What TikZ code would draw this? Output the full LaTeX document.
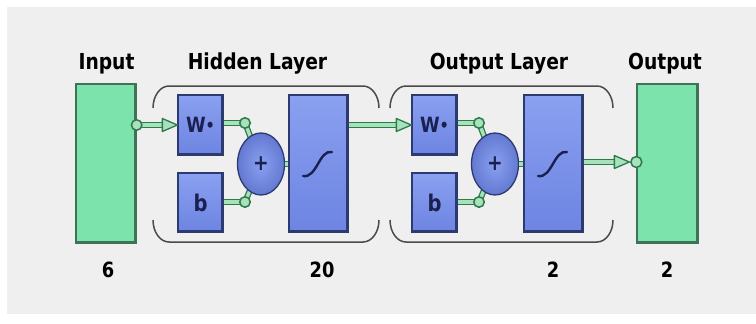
\documentclass[tikz,border=0pt]{standalone}
\usepackage{fontspec}
\newfontfamily\lab{DejaVu Sans}[FakeStretch=0.85]
\usetikzlibrary{calc,shapes.geometric,shadings}
\definecolor{bgc}{HTML}{EFEFEF}
\definecolor{mint}{HTML}{7DE3AD}
\definecolor{mintdark}{HTML}{3F7358}
\definecolor{bluef}{HTML}{6D84E2}
\definecolor{bluel}{HTML}{8AA0F0}
\definecolor{navy}{HTML}{2C3A70}
\definecolor{ink}{HTML}{1A2050}
\definecolor{wiredark}{HTML}{2F7A4A}
\definecolor{wirelight}{HTML}{A8E2BC}
\definecolor{brk}{HTML}{4A4A4A}
\begin{document}
\begin{tikzpicture}[x=1pt,y=-1pt,
  txt/.style={font=\lab\bfseries\fontsize{22}{26}\selectfont, text=black, anchor=base, inner sep=0pt},
  num/.style={font=\lab\bfseries\fontsize{21}{24}\selectfont, text=black, anchor=base, inner sep=0pt},
  greenbox/.style={draw=mintdark, line width=1.3pt, fill=mint, minimum width=60pt, minimum height=159pt, inner sep=0pt},
  bluebox/.style={draw=navy, line width=1.3pt, top color=bluel, bottom color=bluef, inner sep=0pt, text=ink,
     font=\lab\bfseries\fontsize{21}{22}\selectfont},
  plusnode/.style={ellipse, draw=navy, line width=1.3pt, inner color=bluel, outer color=bluef!85!navy,
     minimum width=47pt, minimum height=62pt, inner sep=0pt, text=ink, font=\lab\bfseries\fontsize{22}{22}\selectfont},
  wire/.style={draw=wiredark, line width=1.3pt, double=wirelight, double distance=3.4pt},
  port/.style={circle, draw=wiredark, line width=1.5pt, fill=wirelight, minimum size=10.5pt, inner sep=0pt},
  tri/.style={draw=wiredark, line width=1.3pt, fill=wirelight, line join=round},
  bracket/.style={draw=brk, line width=1.5pt},
  bevel/.style={line width=2.5pt},
  sig/.style={draw=ink, line width=2.4pt, line cap=round}
]
\useasboundingbox (0,0) rectangle (756,324);
\fill[white] (0,0) rectangle (756,324);
\fill[bgc] (7,7) rectangle (756,314);

% brackets
\draw[bracket] (153,108) arc[start angle=180, end angle=90, x radius=16pt, y radius=22pt] -- (363,86)
  arc[start angle=90, end angle=0, x radius=16pt, y radius=22pt];
\draw[bracket] (153,220) arc[start angle=180, end angle=270, x radius=16pt, y radius=22pt] -- (363,242)
  arc[start angle=270, end angle=360, x radius=16pt, y radius=22pt];
\draw[bracket] (390,108) arc[start angle=180, end angle=90, x radius=16pt, y radius=22pt] -- (597,86)
  arc[start angle=90, end angle=0, x radius=16pt, y radius=22pt];
\draw[bracket] (390,220) arc[start angle=180, end angle=270, x radius=16pt, y radius=22pt] -- (597,242)
  arc[start angle=270, end angle=360, x radius=16pt, y radius=22pt];

% boxes
\node[greenbox] (in) at (106,163.5) {};
\node[greenbox, minimum width=61pt] (out) at (667.5,163.5) {};
\node[bluebox, minimum width=45pt, minimum height=60pt] (W1) at (200.5,125) {W\raisebox{0.1ex}{\fontsize{17}{17}\selectfont•}};
\node[bluebox, minimum width=45pt, minimum height=59pt, font=\lab\bfseries\fontsize{23}{24}\selectfont] (b1) at (200.5,202.5) {b};
\node[bluebox, minimum width=59pt, minimum height=137pt] (s1) at (318.5,163.5) {};
\node[bluebox, minimum width=45pt, minimum height=60pt] (W2) at (434.5,125) {W\raisebox{0.1ex}{\fontsize{17}{17}\selectfont•}};
\node[bluebox, minimum width=45pt, minimum height=59pt, font=\lab\bfseries\fontsize{23}{24}\selectfont] (b2) at (434.5,202.5) {b};
\node[bluebox, minimum width=59pt, minimum height=137pt] (s2) at (553.5,163.5) {};

% bevels (darker bottom and right edges)
\foreach \n/\c in {in/mintdark,out/mintdark,W1/navy,b1/navy,s1/navy,W2/navy,b2/navy,s2/navy}{
  \draw[bevel, draw=\c] ($(\n.south west)+(1,-1)$) -- ($(\n.south east)+(-1,-1)$) -- ($(\n.north east)+(-1,1)$);
}

% sigmoid curves
\foreach \n in {s1,s2}{
  \draw[sig] ($(\n.center)+(-15.5,12.5)$) .. controls ($(\n.center)+(-1.5,15)$) and ($(\n.center)+(0.5,-14)$) .. ($(\n.center)+(13.5,-11.5)$);
}

% ports of the summing junctions
\coordinate (q1) at (245,123);
\coordinate (r1) at (245,202);
\coordinate (q2) at (479,123);
\coordinate (r2) at (479,202);

% stems from ports to the summing junctions (drawn below the ellipses)
\draw[wire] (q1) -- (261,164);
\draw[wire] (r1) -- (261,164);
\draw[wire] (q2) -- (495,164);
\draw[wire] (r2) -- (495,164);

\node[plusnode] (p1) at (261,164) {+};
\node[plusnode] (p2) at (495,164) {+};

% connectors: input -> W1
\coordinate (inp) at (in.east |- W1.west);
\draw[wire] (inp) -- ($(W1.west)+(-14,0)$);
\draw[tri] (W1.west) -- ++(-15,-6.5) -- ++(0,13) -- cycle;
\node[port] (pin) at (inp) {};

% layer 1 internals
\draw[wire] (W1.east |- q1) -- (q1);
\draw[wire] (b1.east |- r1) -- (r1);
\node[port] (pq1) at (q1) {};
\node[port] (pr1) at (r1) {};
\draw[wire] (p1.east) -- (s1.west |- p1.east);

% layer1 -> W2
\draw[wire] (s1.east |- W2.west) -- ($(W2.west)+(-14,0)$);
\draw[tri] (W2.west) -- ++(-15,-6.5) -- ++(0,13) -- cycle;

% layer 2 internals
\draw[wire] (W2.east |- q2) -- (q2);
\draw[wire] (b2.east |- r2) -- (r2);
\node[port] (pq2) at (q2) {};
\node[port] (pr2) at (r2) {};
\draw[wire] (p2.east) -- (s2.west |- p2.east);

% layer2 -> output
\coordinate (outp) at (out.west |- 0,162);
\draw[wire] (s2.east |- outp) -- ($(outp)+(-20,0)$);
\draw[tri] ($(outp)+(-7,0)$) -- ++(-15,-6.5) -- ++(0,13) -- cycle;
\node[port, minimum size=11pt] (pout) at (outp) {};

% labels
\node[txt] (tin) at (106.5,69) {Input};
\node[txt] (thid) at (257.5,69) {Hidden Layer};
\node[txt] (tol) at (499,69) {Output Layer};
\node[txt] (tout) at (665,69) {Output};
\node[num] (n1) at (108,277) {6};
\node[num] (n2) at (322,277) {20};
\node[num] (n3) at (553,277) {2};
\node[num] (n4) at (667,277) {2};
\end{tikzpicture}
\end{document}
